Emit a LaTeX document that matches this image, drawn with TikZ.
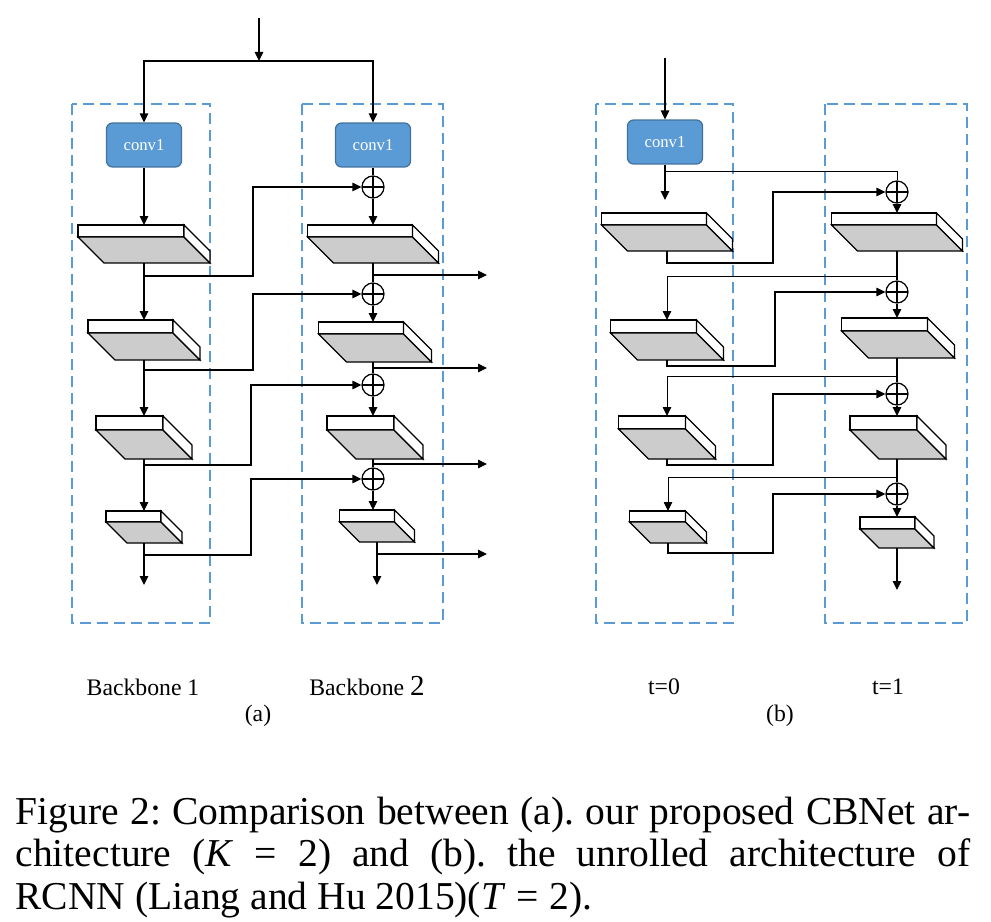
\documentclass[tikz,border=0pt]{standalone}
\usepackage{fontspec}
\setmainfont{Liberation Serif}
\usetikzlibrary{arrows.meta,calc}

\definecolor{boxblue}{RGB}{91,155,213}
\definecolor{convedge}{RGB}{65,113,156}
\definecolor{slabgray}{RGB}{204,204,204}

\tikzset{
	arr/.style={-{Triangle[length=0.18cm,width=0.17cm]}},
	conv/.style={draw=convedge, fill=boxblue, rounded corners=0.12cm, minimum width=1.5cm, minimum height=0.88cm, text=white, font=\fontsize{9.5}{11}\selectfont},
	plus/.style={draw, circle, minimum size=0.44cm, inner sep=0pt,
		path picture={\draw (path picture bounding box.north) -- (path picture bounding box.south)
			(path picture bounding box.west) -- (path picture bounding box.east);}},
	group/.style={draw=boxblue, line width=1.1pt, dash pattern=on 0.22cm off 0.12cm},
	lbl/.style={font=\fontsize{13.5}{16}\selectfont}
}

% slab: name, centre x, top y, width, thickness, depth
\newcommand{\slab}[6]{%
	\pgfmathsetmacro{\slabx}{-(#4+#6)/2}
	\begin{scope}[shift={(#2,#3)}]
		\coordinate (#1-t) at (0,0);
		\coordinate (#1-b) at (0,#5+#6);
		\draw[fill=white] (\slabx,0) rectangle ++(#4,#5);
		\draw[fill=slabgray] (\slabx,#5) -- ++(#4,0) -- ++(#6,#6) -- ++(-#4,0) -- cycle;
		\draw[fill=white] (\slabx+#4,0) -- ++(#6,#6) -- ++(0,#5) -- ++(-#6,-#6) -- cycle;
	\end{scope}}

\begin{document}
\begin{tikzpicture}[x=0.02cm, y=-0.02cm, line width=0.7pt]
	\useasboundingbox (0,0) rectangle (991,922);

	% (a) backbones
	\draw[group] (72,104) rectangle (210,623);
	\draw[group] (302,104) rectangle (443,623);

	\coordinate (inA) at (259,18);
	\coordinate (splitA) at (259,61);
	\node[conv] (convA) at (144,145) {conv1};
	\node[conv] (convB) at (373,145) {conv1};
	\draw[arr] (inA) -- (splitA);
	\draw[arr] (splitA) -| (convA);
	\draw[arr] (splitA) -| (convB);

	\slab{ba1}{144}{225}{106}{12}{26}
	\slab{ba2}{144}{320}{85}{13}{27}
	\slab{ba3}{144}{416}{67}{14}{29}
	\slab{ba4}{144}{511}{55}{11}{21}
	\coordinate (endA) at (144,585);

	\node[plus] (pa1) at (373,187) {};
	\node[plus] (pa2) at (373,294) {};
	\node[plus] (pa3) at (373,385) {};
	\node[plus] (pa4) at (373,479) {};
	\slab{bb1}{373}{225}{105}{12}{26}
	\slab{bb2}{375}{322}{85}{12}{28}
	\slab{bb3}{375}{416}{67}{14}{29}
	\slab{bb4}{377}{510}{55}{12}{20}
	\coordinate (endB) at (377,585);

	\draw[arr] (convA) -- (ba1-t);
	\draw[arr] (ba1-b) -- (ba2-t);
	\draw[arr] (ba2-b) -- (ba3-t);
	\draw[arr] (ba3-b) -- (ba4-t);
	\draw[arr] (ba4-b) -- (endA);

	\draw (convB) -- (pa1);
	\draw[arr] (pa1) -- (pa1 |- bb1-t);
	\draw (pa2 |- bb1-b) -- (pa2);
	\draw[arr] (pa2) -- (pa2 |- bb2-t);
	\draw (pa3 |- bb2-b) -- (pa3);
	\draw[arr] (pa3) -- (pa3 |- bb3-t);
	\draw (pa4 |- bb3-b) -- (pa4);
	\draw[arr] (pa4) -- (pa4 |- bb4-t);
	\draw[arr] (bb4-b) -- (endB);

	% lateral links
	\draw[arr] (ba1-b) ++(0,13) -| ([xshift=-2.4cm]pa1.center) -- (pa1);
	\draw[arr] (ba2-b) ++(0,10) -| ([xshift=-2.4cm]pa2.center) -- (pa2);
	\draw[arr] (ba3-b) ++(0,6) -| ([xshift=-2.44cm]pa3.center) -- (pa3);
	\draw[arr] (ba4-b) ++(0,12) -| ([xshift=-2.44cm]pa4.center) -- (pa4);

	% outputs
	\coordinate (o1) at (487,275);
	\coordinate (o2) at (487,368);
	\coordinate (o3) at (487,464);
	\coordinate (o4) at (487,554);
	\draw[arr] (o1 -| pa1) -- (o1);
	\draw[arr] (o2 -| pa1) -- (o2);
	\draw[arr] (o3 -| pa1) -- (o3);
	\draw[arr] (o4 -| endB) -- (o4);

	% (b) unrolled
	\draw[group] (596,104) rectangle (733,623);
	\draw[group] (825,104) rectangle (967,623);

	\coordinate (inT) at (665,58);
	\node[conv] (convT) at (665,142) {conv1};
	\coordinate (stopT) at (665,200);
	\draw[arr] (inT) -- (convT);
	\draw[arr] (convT) -- (stopT);

	\slab{ta1}{667}{213}{105}{12}{26}
	\slab{ta2}{667}{320}{86}{13}{27}
	\slab{ta3}{667}{416}{67}{13}{30}
	\slab{ta4}{668}{511}{56}{11}{21}

	\node[plus] (pb1) at (897,192) {};
	\node[plus] (pb2) at (897,292) {};
	\node[plus] (pb3) at (897,394) {};
	\node[plus] (pb4) at (897,494) {};
	\slab{tb1}{897}{213}{105}{12}{26}
	\slab{tb2}{898}{318}{86}{13}{27}
	\slab{tb3}{898}{416}{67}{14}{29}
	\slab{tb4}{897}{517}{55}{12}{19}
	\coordinate (endT) at (897,590);

	\draw[line width=0.5pt] (convT.south) ++(0,7) -| (pb1);
	\draw[arr] (pb1) -- (pb1 |- tb1-t);
	\draw (pb2 |- tb1-b) -- (pb2);
	\draw[arr] (pb2) -- (pb2 |- tb2-t);
	\draw (pb3 |- tb2-b) -- (pb3);
	\draw[arr] (pb3) -- (pb3 |- tb3-t);
	\draw (pb4 |- tb3-b) -- (pb4);
	\draw[arr] (pb4) -- (pb4 |- tb4-t);
	\draw[arr] (tb4-b) -- (endT);

	% recurrent feedback
	\draw[arr, line width=0.5pt] (pb2 |- tb1-b) ++(0,25) -| (ta2-t);
	\draw[arr, line width=0.5pt] (pb3 |- tb2-b) ++(0,18) -| (ta3-t);
	\draw[arr, line width=0.5pt] (pb4 |- tb3-b) ++(0,18) -| (ta4-t);

	\draw[arr] (ta1-b) -- ++(0,12) -| ([xshift=-2.48cm]pb1.center) -- (pb1);
	\draw[arr] (ta2-b) -- ++(0,6) -| ([xshift=-2.44cm]pb2.center) -- (pb2);
	\draw[arr] (ta3-b) -- ++(0,6) -| ([xshift=-2.48cm]pb3.center) -- (pb3);
	\draw[arr] (ta4-b) -- ++(0,10) -| ([xshift=-2.48cm]pb4.center) -- (pb4);

	% labels
	\node[lbl] (nameA) at (143,687) {Backbone 1};
	\node[lbl] (nameB) at (367,686) {Backbone {\fontsize{16.5}{18}\selectfont 2}};
	\node[lbl] (subA) at (258,716) {(a)};
	\node[lbl] (nameT0) at (664,687) {t=0};
	\node[lbl] (nameT1) at (888,687) {t=1};
	\node[lbl] (subB) at (780,716) {(b)};

	\node[anchor=north west, inner sep=0pt, text width=19.1cm, align=justify,
		font=\fontsize{22.5}{24.4}\selectfont] (caption) at (15,796)
		{\frenchspacing\hyphenpenalty=10000 Figure 2: Comparison between (a). our proposed CBNet ar-\linebreak
		chitecture (\textit{K} = 2) and (b). the unrolled architecture of\linebreak
		RCNN (Liang and Hu 2015)(\textit{T}\;=\;2).};
\end{tikzpicture}
\end{document}
